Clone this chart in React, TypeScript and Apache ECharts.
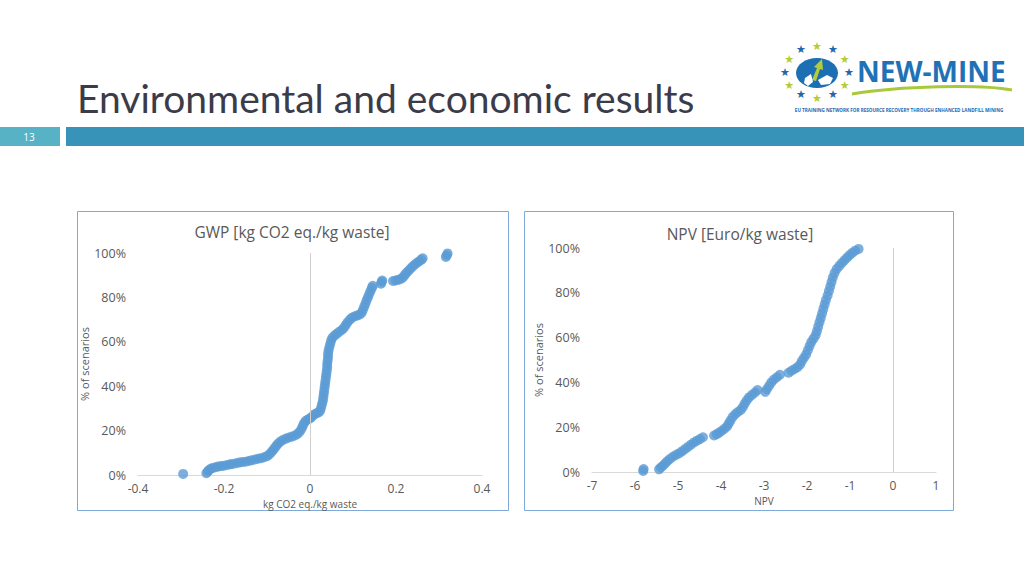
import React, { useEffect, useRef } from "react";
import * as echarts from "echarts";

// ---- Data ----
const gwpTitle = "GWP [kg CO2 eq./kg waste]";
const npvTitle = "NPV [Euro/kg waste]";
const gwpXTicks = [-0.4, -0.2, 0, 0.2, 0.4];
const npvXTicks = [-7, -6, -5, -4, -3, -2, -1, 0, 1];
const yTicks = [0, 20, 40, 60, 80, 100];

// GWP [kg CO2 eq./kg waste] values and cumulative % of scenarios
const gwpValues = [
  -0.295,
  -0.241, -0.238, -0.235, -0.231, -0.226, -0.22, -0.214, -0.207, -0.2, -0.193, -0.186, -0.18,
  -0.172, -0.165, -0.158, -0.15, -0.143, -0.136, -0.128, -0.121, -0.114, -0.107, -0.1, -0.095,
  -0.09, -0.086, -0.082, -0.078, -0.074, -0.069, -0.063, -0.056, -0.049, -0.042, -0.035, -0.029,
  -0.024, -0.02, -0.017, -0.014, -0.01, -0.005, 0.0, 0.005, 0.01, 0.015, 0.02, 0.024, 0.026,
  0.028, 0.03, 0.031, 0.032, 0.033, 0.034, 0.035, 0.036, 0.037, 0.038, 0.039, 0.04, 0.04, 0.041,
  0.042, 0.042, 0.043, 0.045, 0.047, 0.049, 0.052, 0.057, 0.062, 0.068, 0.074, 0.079, 0.083,
  0.087, 0.092, 0.097, 0.103, 0.109, 0.115, 0.12, 0.123, 0.126, 0.129, 0.132, 0.135, 0.138,
  0.141, 0.144, 0.146,
  0.165, 0.167, 0.168,
  0.193, 0.199, 0.205, 0.211, 0.216, 0.22, 0.224, 0.229, 0.234, 0.239, 0.244, 0.249, 0.254,
  0.259, 0.262,
  0.316, 0.318, 0.32,
];
const gwpPercent = [
  0.5,
  0.8, 1.5, 2.2, 2.8, 3.2, 3.5, 3.8, 4.0, 4.2, 4.5, 4.8, 5.0,
  5.3, 5.6, 5.8, 6.0, 6.3, 6.6, 7.0, 7.3, 7.6, 8.0, 8.5, 9.2,
  10.2, 11.2, 12.2, 13.2, 14.2, 15.0, 15.8, 16.4, 16.9, 17.3, 17.8, 18.5,
  19.5, 20.7, 22.0, 23.3, 24.4, 25.0, 25.5, 26.3, 27.3, 27.8, 28.2, 29.0, 30.5,
  32.0, 33.5, 35.0, 36.5, 38.0, 39.5, 41.0, 42.5, 44.0, 45.5, 47.0, 48.5, 50.0, 51.5,
  53.0, 54.5, 56.0, 57.5, 59.0, 60.5, 61.8, 62.8, 63.6, 64.5, 65.3, 66.3, 67.5,
  68.7, 69.8, 70.8, 71.4, 71.8, 72.2, 73.0, 74.3, 75.8, 77.3, 78.8, 80.2, 81.6,
  83.0, 84.3, 85.2,
  86.2, 87.0, 87.6,
  87.4, 87.6, 87.9, 88.3, 89.0, 90.0, 91.0, 92.0, 93.0, 94.0, 94.8, 95.6, 96.3,
  97.0, 97.6,
  98.2, 99.0, 99.8,
];

// NPV [Euro/kg waste] values and cumulative % of scenarios
const npvValues = [
  -5.81, -5.8,
  -5.44, -5.4, -5.35, -5.3, -5.25, -5.19, -5.12, -5.05, -4.98, -4.91, -4.84, -4.77, -4.7, -4.63,
  -4.56, -4.49, -4.42,
  -4.16, -4.1, -4.04, -3.98, -3.92, -3.86, -3.82, -3.78, -3.73, -3.67, -3.61, -3.54, -3.49,
  -3.45, -3.4, -3.35, -3.28, -3.21, -3.15,
  -2.97, -2.93, -2.88, -2.83, -2.77, -2.7, -2.63,
  -2.43, -2.36, -2.29, -2.22, -2.16, -2.12, -2.07, -2.02, -1.98, -1.94, -1.9, -1.85, -1.8,
  -1.77, -1.74, -1.71, -1.68, -1.65, -1.62, -1.59, -1.56, -1.52, -1.49, -1.46, -1.43, -1.4,
  -1.36, -1.31, -1.25, -1.19, -1.13, -1.07, -1.01, -0.95, -0.88, -0.8,
];
const npvPercent = [
  0.5, 1.3,
  1.2, 2.0, 2.8, 3.8, 4.8, 5.8, 6.8, 7.6, 8.3, 9.2, 10.2, 11.2, 12.2, 13.2,
  14.0, 14.7, 15.5,
  16.3, 16.9, 17.6, 18.4, 19.3, 20.3, 21.6, 23.0, 24.5, 25.8, 26.8, 27.7, 29.0,
  30.5, 32.0, 33.3, 34.4, 35.5, 36.6,
  35.8, 37.0, 38.5, 40.0, 41.3, 42.3, 43.4,
  44.3, 45.2, 46.0, 46.8, 48.0, 49.5, 51.0, 52.5, 54.3, 56.2, 58.0, 59.5, 61.0,
  62.8, 64.8, 66.8, 68.8, 70.8, 72.8, 74.8, 76.8, 78.8, 80.8, 82.8, 84.8, 86.8,
  88.8, 90.6, 92.0, 93.3, 94.5, 95.7, 96.8, 97.8, 98.8, 99.6,
];

const BLUE = "#5b9bd5";
const TXT = "#595959";
const FONT = "'Open Sans', sans-serif";

function zip(a: number[], b: number[]) {
  return a.map((v, i) => [v, b[i]]);
}

function logoGraphics(): any[] {
  const els: any[] = [];
  const cx = 817, cy = 72;
  for (let i = 0; i < 12; i++) {
    const ang = (-90 + i * 30) * (Math.PI / 180);
    els.push({
      type: "text",
      x: cx + 32 * Math.cos(ang),
      y: cy + 26 * Math.sin(ang),
      style: {
        text: "★",
        fontSize: 11,
        fontFamily: "'DejaVu Sans'",
        fill: i % 2 === 0 ? "#b4cc3a" : "#2466ae",
        align: "center",
        verticalAlign: "middle",
      },
    });
  }
  els.push({ type: "ellipse", shape: { cx, cy: cy + 1, rx: 21, ry: 15 }, style: { fill: "#1d6fb3" } });
  els.push({
    type: "polygon",
    shape: { points: [[812, 80], [817, 68], [814, 67], [822, 59], [823, 70], [820, 69], [816, 81]] },
    style: { fill: "#b4cc3a" },
  });
  els.push({
    type: "polygon",
    shape: { points: [[805, 78], [811, 74], [813, 82], [808, 86], [804, 83]] },
    style: { fill: "#ffffff" },
  });
  els.push({
    type: "polygon",
    shape: { points: [[818, 80], [827, 75], [833, 78], [830, 84], [821, 85]] },
    style: { fill: "#ffffff" },
  });
  els.push({
    type: "text",
    x: 857,
    y: 71,
    style: {
      text: "NEW-MINE",
      fontSize: 28,
      fontWeight: "bold",
      fontFamily: FONT,
      fill: "#1f72b5",
      verticalAlign: "middle",
    },
  });
  els.push({
    type: "bezierCurve",
    shape: { x1: 852, y1: 94, cpx1: 900, cpy1: 86, x2: 1012, y2: 90, cpx2: 980, cpy2: 84 },
    style: { stroke: "#a9c93a", lineWidth: 3, fill: null },
  });
  els.push({
    type: "text",
    x: 899,
    y: 110,
    style: {
      text: "EU TRAINING NETWORK FOR RESOURCE RECOVERY THROUGH ENHANCED LANDFILL MINING",
      fontSize: 4.6,
      fontWeight: "bold",
      fontFamily: FONT,
      fill: "#2466ae",
      align: "center",
      verticalAlign: "middle",
    },
  });
  return els;
}

export default function App() {
  const ref = useRef<HTMLDivElement>(null);
  useEffect(() => {
    if (!ref.current) return;
    const chart = echarts.init(ref.current, null, { renderer: "svg", width: 1024, height: 576 });

    const xAxisBase = (min: number, max: number, interval: number, name: string, nameGap: number) => ({
      type: "value",
      min,
      max,
      interval,
      name,
      nameLocation: "middle",
      nameGap,
      nameTextStyle: { color: TXT, fontSize: 10, fontFamily: FONT },
      axisLine: { show: true, onZero: false, lineStyle: { color: "#d9d9d9", width: 1 } },
      axisTick: { show: false },
      splitLine: { show: false },
      axisLabel: { color: TXT, fontSize: 12, fontFamily: FONT, margin: 7 },
    });
    const yAxisBase = (nameGap: number) => ({
      type: "value",
      min: yTicks[0],
      max: yTicks[yTicks.length - 1],
      interval: 20,
      name: "% of scenarios",
      nameLocation: "middle",
      nameGap,
      nameRotate: 90,
      nameTextStyle: { color: TXT, fontSize: 11, fontFamily: FONT },
      axisLine: { show: false },
      axisTick: { show: false },
      splitLine: { show: false },
      axisLabel: { color: TXT, fontSize: 12.5, fontFamily: FONT, margin: 12, formatter: "{value}%" },
    });

    const zeroLine = {
      silent: true,
      symbol: "none",
      label: { show: false },
      lineStyle: { color: "#d0d0d0", width: 1, type: "solid" },
      data: [{ xAxis: 0 }],
    };

    chart.setOption({
      animation: false,
      backgroundColor: "#ffffff",
      grid: [
        { left: 138, top: 253, width: 344, height: 222 },
        { left: 592, top: 248, width: 344, height: 224 },
      ],
      xAxis: [
        { ...xAxisBase(gwpXTicks[0], gwpXTicks[gwpXTicks.length - 1], 0.2, "kg CO2 eq./kg waste", 24), gridIndex: 0 },
        { ...xAxisBase(npvXTicks[0], npvXTicks[npvXTicks.length - 1], 1, "NPV", 24), gridIndex: 1 },
      ],
      yAxis: [
        { ...yAxisBase(45), gridIndex: 0 },
        { ...yAxisBase(43), gridIndex: 1 },
      ],
      series: [
        {
          type: "scatter",
          xAxisIndex: 0,
          yAxisIndex: 0,
          symbolSize: 10,
          itemStyle: { color: BLUE },
          data: zip(gwpValues, gwpPercent),
          markLine: zeroLine,
          z: 3,
        },
        {
          type: "scatter",
          xAxisIndex: 1,
          yAxisIndex: 1,
          symbolSize: 10,
          itemStyle: { color: BLUE },
          data: zip(npvValues, npvPercent),
          markLine: zeroLine,
          z: 3,
        },
      ],
      graphic: [
        { type: "rect", shape: { x: 0, y: 127, width: 60, height: 19 }, style: { fill: "#56b2c4" }, z: 0 },
        { type: "rect", shape: { x: 66, y: 127, width: 958, height: 19 }, style: { fill: "#3893b9" }, z: 0 },
        {
          type: "text",
          x: 29,
          y: 137,
          style: { text: "13", fontSize: 10, fontFamily: FONT, fill: "#ffffff", align: "center", verticalAlign: "middle" },
        },
        {
          type: "text",
          x: 77,
          y: 98,
          style: {
            text: "Environmental and economic results",
            fontSize: 39,
            fontFamily: "Lato, sans-serif",
            fill: "#3b3b4a",
            verticalAlign: "middle",
          },
        },
        ...logoGraphics(),
        {
          type: "rect",
          shape: { x: 77.5, y: 211.5, width: 431, height: 299 },
          style: { fill: null, stroke: "#7fa9d9", lineWidth: 1 },
          z: -1,
        },
        {
          type: "rect",
          shape: { x: 524.5, y: 211.5, width: 429, height: 299 },
          style: { fill: null, stroke: "#7fa9d9", lineWidth: 1 },
          z: -1,
        },
        {
          type: "text",
          x: 292,
          y: 232,
          style: { text: gwpTitle, fontSize: 15.5, fontFamily: FONT, fill: TXT, align: "center", verticalAlign: "middle" },
        },
        {
          type: "text",
          x: 740,
          y: 234,
          style: { text: npvTitle, fontSize: 15.5, fontFamily: FONT, fill: TXT, align: "center", verticalAlign: "middle" },
        },
      ],
    });
    return () => chart.dispose();
  }, []);
  return <div ref={ref} style={{ position: "absolute", left: 0, top: 0, width: 1024, height: 576 }} />;
}
